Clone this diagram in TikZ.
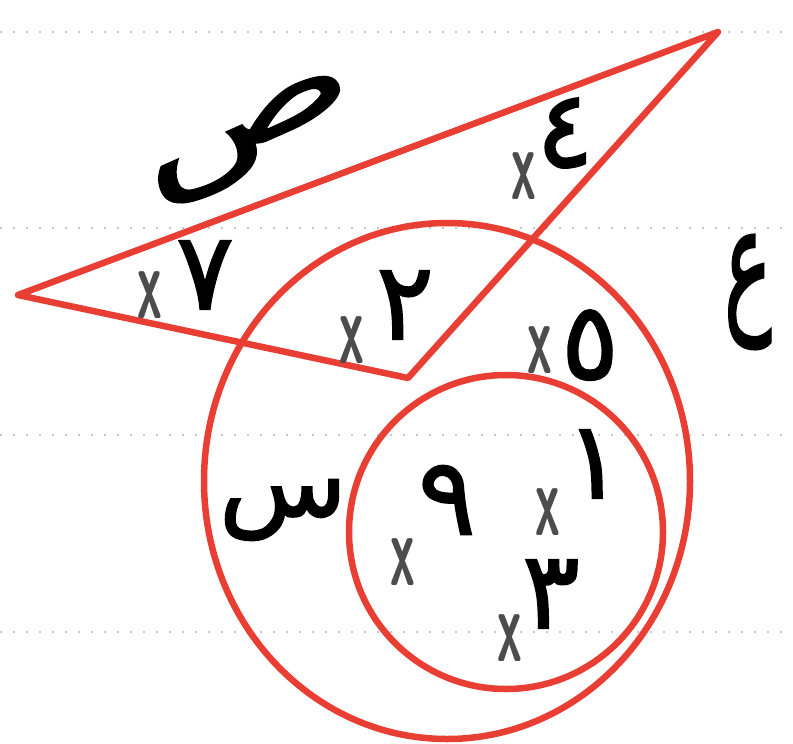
\documentclass[tikz,border=0pt]{standalone}
\usepackage{fontspec}
\usetikzlibrary{shapes.geometric}
\newfontfamily\arabicfont[Script=Arabic,FakeBold=1.6]{DejaVu Sans}
\TeXXeTstate=1
\definecolor{penred}{RGB}{232,62,52}
\begin{document}
\begin{tikzpicture}[x=1pt,y=-1pt,
  redline/.style={draw=penred, line width=6.5pt, line join=round},
  ruled/.style={draw=black!22, line width=2.5pt, dash pattern=on 2pt off 11pt},
  digit/.style={font=\arabicfont\fontsize{108}{108}\selectfont, text=black, inner sep=0pt},
  setname/.style={font=\arabicfont\fontsize{100}{100}\selectfont, text=black, inner sep=0pt},
  xmark/.style={font=\fontsize{66}{66}\selectfont\sffamily\bfseries, text=black!70, inner sep=0pt}
]
\useasboundingbox (0,0) rectangle (793,744);
% notebook ruling
\foreach \yy in {32,228,435,632}{\draw[ruled] (0,\yy) -- (793,\yy);}
% triangle (set sad)
\coordinate (A) at (18,295);
\coordinate (B) at (718,32);
\coordinate (C) at (408,378);
\draw[redline] (A) -- (B) -- (C) -- cycle;
% circles
\node[redline, ellipse, minimum width=486pt, minimum height=516pt, inner sep=0pt] (E) at (447,481) {};
\node[redline, circle, minimum size=314pt, inner sep=0pt] (S) at (506,532) {};
% set names
\node[setname, rotate=24] (nSad) at (252,140) {\scalebox{1.9}[1.1]{\beginR ص\endR}};
\node[setname] (nAin) at (748,292) {\scalebox{0.8}[1.5]{\beginR ع\endR}};
\node[setname] (nSin) at (283,510) {\scalebox{1.05}[1.0]{\beginR س\endR}};
% elements
\node[digit] (d4) at (565,133) {٤};
\node[digit] (d7) at (205,275) {٧};
\node[digit] (d2) at (405,305) {٢};
\node[digit] (d5) at (590,345) {٥};
\node[digit] (d1) at (594,464) {١};
\node[digit] (d9) at (447,500) {٩};
\node[digit] (d3) at (551,594) {٣};
% crosses
\foreach \nm/\px/\py in {x4/524/176, x7/150/295, x2/352/340, x5/540/350, x1/548/512, x9/403/562, x3/510/638}{
  \node[xmark] (\nm) at (\px,\py) {\scalebox{0.75}[1.55]{x}};
}
\end{tikzpicture}
\end{document}
